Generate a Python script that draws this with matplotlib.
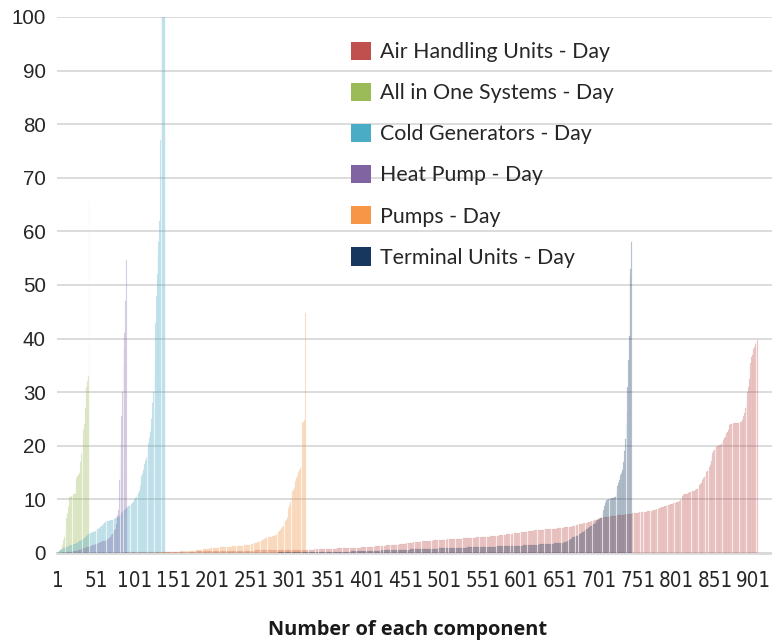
import numpy as np
import matplotlib
matplotlib.use("Agg")
import matplotlib.pyplot as plt
from matplotlib.patches import Patch

series_names = ["Air Handling Units - Day", "All in One Systems - Day", "Cold Generators - Day",
                "Heat Pump - Day", "Pumps - Day", "Terminal Units - Day"]
series_colors = ["#C0504D", "#9BBB59", "#4BACC6", "#8064A2", "#F79646", "#17375E"]
tick_labels = ["1", "51", "101", "151", "201", "251", "301", "351", "401", "451", "501",
               "551", "601", "651", "701", "751", "801", "851", "901"]

air_handling = [
    0.00,0.00,0.00,0.00,0.01,0.01,0.01,0.01,0.01,0.01,
    0.01,0.02,0.02,0.02,0.02,0.02,0.02,0.02,0.03,0.03,
    0.03,0.03,0.03,0.03,0.03,0.04,0.04,0.04,0.04,0.04,
    0.04,0.04,0.05,0.05,0.05,0.05,0.05,0.05,0.05,0.05,
    0.05,0.06,0.06,0.06,0.06,0.06,0.06,0.06,0.06,0.06,
    0.06,0.06,0.07,0.07,0.07,0.07,0.07,0.07,0.07,0.07,
    0.07,0.07,0.08,0.08,0.08,0.08,0.08,0.08,0.08,0.08,
    0.08,0.08,0.08,0.09,0.09,0.09,0.09,0.09,0.09,0.09,
    0.09,0.09,0.09,0.09,0.10,0.10,0.10,0.10,0.10,0.10,
    0.10,0.10,0.10,0.10,0.10,0.11,0.11,0.11,0.11,0.11,
    0.11,0.11,0.11,0.12,0.12,0.12,0.12,0.12,0.12,0.12,
    0.13,0.13,0.13,0.13,0.13,0.13,0.14,0.14,0.14,0.14,
    0.14,0.14,0.15,0.15,0.15,0.15,0.15,0.16,0.16,0.16,
    0.16,0.16,0.17,0.17,0.17,0.17,0.17,0.18,0.18,0.18,
    0.18,0.18,0.19,0.19,0.19,0.19,0.20,0.20,0.20,0.20,
    0.20,0.21,0.21,0.21,0.21,0.22,0.22,0.22,0.22,0.22,
    0.23,0.23,0.23,0.23,0.24,0.24,0.24,0.24,0.25,0.25,
    0.25,0.25,0.26,0.26,0.26,0.26,0.27,0.27,0.27,0.27,
    0.28,0.28,0.28,0.28,0.29,0.29,0.29,0.29,0.30,0.30,
    0.30,0.30,0.31,0.31,0.31,0.31,0.32,0.32,0.32,0.32,
    0.33,0.33,0.33,0.33,0.34,0.34,0.34,0.34,0.35,0.35,
    0.35,0.35,0.36,0.36,0.36,0.36,0.37,0.37,0.37,0.37,
    0.38,0.38,0.38,0.38,0.39,0.39,0.39,0.39,0.40,0.40,
    0.40,0.40,0.41,0.41,0.41,0.41,0.42,0.42,0.42,0.42,
    0.43,0.43,0.43,0.43,0.44,0.44,0.44,0.44,0.45,0.45,
    0.45,0.45,0.46,0.46,0.46,0.46,0.47,0.47,0.47,0.47,
    0.48,0.48,0.48,0.48,0.49,0.49,0.49,0.49,0.50,0.50,
    0.50,0.50,0.51,0.51,0.51,0.51,0.52,0.52,0.52,0.52,
    0.53,0.53,0.53,0.53,0.54,0.54,0.54,0.54,0.55,0.55,
    0.55,0.55,0.56,0.56,0.56,0.56,0.57,0.57,0.57,0.57,
    0.58,0.58,0.58,0.58,0.59,0.59,0.59,0.59,0.60,0.60,
    0.60,0.60,0.61,0.61,0.61,0.61,0.62,0.62,0.62,0.62,
    0.63,0.63,0.63,0.63,0.64,0.64,0.64,0.64,0.65,0.65,
    0.65,0.65,0.66,0.66,0.66,0.66,0.67,0.67,0.67,0.67,
    0.68,0.68,0.68,0.69,0.69,0.69,0.70,0.70,0.70,0.71,
    0.72,0.73,0.74,0.75,0.76,0.77,0.78,0.79,0.80,0.81,
    0.82,0.83,0.84,0.85,0.85,0.86,0.86,0.87,0.87,0.88,
    0.88,0.89,0.90,0.91,0.92,0.93,0.94,0.95,0.96,0.96,
    0.97,0.97,0.98,0.98,0.99,0.99,1.00,1.00,1.00,1.01,
    1.01,1.02,1.02,1.03,1.03,1.04,1.05,1.06,1.07,1.08,
    1.09,1.10,1.11,1.12,1.13,1.14,1.15,1.16,1.17,1.18,
    1.20,1.22,1.24,1.26,1.28,1.30,1.31,1.32,1.33,1.34,
    1.35,1.36,1.37,1.38,1.39,1.40,1.41,1.42,1.43,1.44,
    1.45,1.46,1.47,1.48,1.49,1.50,1.51,1.52,1.53,1.54,
    1.56,1.58,1.60,1.62,1.64,1.66,1.68,1.70,1.72,1.74,
    1.76,1.78,1.80,1.82,1.84,1.86,1.88,1.90,1.92,1.94,
    1.96,1.98,2.00,2.02,2.04,2.06,2.08,2.10,2.12,2.14,
    2.16,2.18,2.20,2.21,2.22,2.23,2.24,2.25,2.26,2.27,
    2.28,2.29,2.30,2.31,2.32,2.33,2.34,2.35,2.36,2.37,
    2.38,2.39,2.40,2.41,2.42,2.43,2.44,2.45,2.46,2.47,
    2.48,2.49,2.50,2.51,2.52,2.53,2.54,2.55,2.56,2.57,
    2.58,2.59,2.60,2.61,2.62,2.63,2.64,2.65,2.66,2.67,
    2.68,2.69,2.70,2.71,2.72,2.73,2.74,2.75,2.76,2.77,
    2.78,2.79,2.80,2.81,2.82,2.83,2.84,2.85,2.86,2.87,
    2.88,2.89,2.90,2.91,2.92,2.93,2.94,2.95,2.96,2.97,
    2.98,2.99,3.00,3.01,3.02,3.03,3.04,3.05,3.06,3.07,
    3.08,3.09,3.10,3.12,3.14,3.16,3.18,3.20,3.22,3.24,
    3.26,3.28,3.30,3.32,3.34,3.36,3.38,3.40,3.42,3.44,
    3.46,3.48,3.50,3.52,3.54,3.56,3.58,3.60,3.62,3.64,
    3.66,3.68,3.70,3.72,3.74,3.76,3.78,3.80,3.82,3.84,
    3.86,3.88,3.90,3.92,3.94,3.96,3.98,4.00,4.02,4.04,
    4.06,4.08,4.10,4.12,4.14,4.16,4.18,4.20,4.22,4.24,
    4.25,4.26,4.27,4.28,4.30,4.32,4.34,4.36,4.38,4.40,
    4.41,4.42,4.43,4.44,4.45,4.46,4.47,4.48,4.49,4.50,
    4.51,4.52,4.53,4.54,4.55,4.56,4.58,4.60,4.62,4.64,
    4.66,4.68,4.70,4.72,4.74,4.76,4.78,4.80,4.82,4.84,
    4.86,4.88,4.90,4.92,4.94,4.96,5.00,5.05,5.10,5.15,
    5.20,5.25,5.30,5.35,5.40,5.42,5.44,5.46,5.48,5.50,
    5.52,5.54,5.56,5.58,5.60,5.65,5.70,5.75,5.80,5.85,
    5.90,5.95,6.00,6.05,6.10,6.15,6.20,6.25,6.30,6.35,
    6.40,6.45,6.50,6.55,6.60,6.62,6.64,6.66,6.68,6.70,
    6.72,6.74,6.76,6.78,6.80,6.82,6.84,6.86,6.88,6.90,
    6.92,6.94,6.96,6.98,7.00,7.02,7.04,7.06,7.08,7.10,
    7.12,7.14,7.16,7.18,7.20,7.22,7.24,7.26,7.28,7.30,
    7.32,7.34,7.36,7.38,7.40,7.42,7.44,7.46,7.48,7.50,
    7.52,7.54,7.56,7.58,7.60,7.62,7.64,7.66,7.68,7.70,
    7.72,7.74,7.76,7.78,7.80,7.82,7.84,7.86,7.88,7.90,
    7.95,8.00,8.05,8.10,8.15,8.20,8.25,8.30,8.35,8.40,
    8.45,8.50,8.55,8.60,8.65,8.70,8.75,8.80,8.85,8.90,
    8.95,9.00,9.05,9.10,9.15,9.20,9.25,9.30,9.35,9.40,
    9.45,9.50,9.55,9.60,9.70,9.80,10.0,10.3,10.6,10.9,
    11.0,11.0,11.0,11.1,11.1,11.2,11.2,11.3,11.3,11.4,
    11.4,11.5,11.5,11.6,11.7,11.8,11.9,12.0,12.2,12.4,
    12.6,12.8,13.0,13.3,13.6,13.9,14.2,14.5,14.8,15.1,
    15.3,15.5,15.7,16.0,16.5,17.2,18.0,18.6,19.0,19.3,
    19.5,19.7,19.8,19.9,20.0,20.0,20.1,20.2,20.3,20.5,
    20.8,21.1,21.4,21.7,22.0,22.3,22.6,23.0,23.4,23.8,
    24.0,24.1,24.1,24.1,24.2,24.2,24.2,24.2,24.3,24.3,
    24.3,24.3,24.4,24.4,24.5,24.8,25.2,25.6,26.2,27.0,
    28.0,29.0,30.0,31.0,32.5,34.0,35.5,36.5,37.0,37.5,
    38.0,38.5,39.0,39.3,39.5,39.7,
]

all_in_one = [
    0.1,0.2,0.3,0.4,0.5,0.7,1.0,1.5,2.5,3.0,
    4.0,5.0,6.5,7.5,8.5,10.2,10.5,10.5,10.6,10.7,
    10.8,11.0,11.0,11.1,13.7,14.0,14.3,14.5,14.6,15.0,
    17.0,18.5,20.0,21.5,23.0,24.0,27.0,30.0,31.0,32.0,
    33.0,65.5,
]

cold_generators = [
    0.1,0.2,0.3,0.4,0.5,0.6,0.7,0.8,0.9,1.0,
    1.05,1.1,1.15,1.2,1.25,1.3,1.35,1.4,1.45,1.5,
    1.55,1.6,1.65,1.7,1.75,1.8,1.9,2.0,2.1,2.2,
    2.3,2.4,2.5,2.6,2.7,2.8,2.9,3.0,3.2,3.4,
    3.6,3.7,3.7,3.8,3.8,3.9,3.9,4.0,4.0,4.1,
    4.2,4.3,4.4,4.5,4.7,4.8,4.9,5.0,5.1,5.2,
    5.4,5.6,5.8,5.9,5.9,6.0,6.0,6.0,6.1,6.1,
    6.1,6.1,6.2,6.3,6.4,6.5,6.6,6.7,6.8,6.8,
    6.9,7.0,7.2,7.4,7.6,7.8,8.0,8.1,8.3,8.4,
    8.5,8.6,8.7,8.8,8.9,9.0,9.2,9.4,9.6,9.8,
    10.0,10.3,10.5,10.8,11.0,11.2,11.5,12.5,13.7,14.3,
    14.8,15.4,16.0,16.6,17.2,17.8,18.5,19.5,20.5,21.5,
    22.5,23.7,25.0,28.0,30.0,32.0,36.0,43.0,48.0,52.0,
    55.6,58.0,62.0,77.0,100,100,100,100,100,100,
]

heat_pump = [
    0.02,0.03,0.04,0.05,0.06,0.07,0.08,0.09,0.10,0.11,
    0.12,0.13,0.14,0.15,0.16,0.18,0.20,0.22,0.24,0.26,
    0.28,0.30,0.32,0.35,0.38,0.40,0.45,0.50,0.55,0.60,
    0.65,0.70,0.75,0.80,0.85,0.90,0.95,1.00,1.05,1.10,
    1.15,1.20,1.25,1.30,1.35,1.40,1.45,1.50,1.55,1.60,
    1.65,1.70,1.75,1.80,1.85,1.90,2.00,2.10,2.20,2.20,
    2.20,2.30,2.30,2.40,2.50,2.60,2.70,2.80,2.90,3.00,
    3.30,3.60,3.90,4.00,4.20,4.50,5.50,6.50,7.00,8.00,
    13.7,17.5,20.6,25.6,30.0,35.0,38.0,41.0,47.0,54.7,
]

pumps = [
    0.00,0.00,0.00,0.00,0.00,0.00,0.00,0.00,0.00,0.00,
    0.00,0.00,0.00,0.00,0.00,0.00,0.00,0.00,0.00,0.00,
    0.01,0.01,0.01,0.01,0.01,0.01,0.01,0.01,0.01,0.01,
    0.01,0.01,0.01,0.01,0.01,0.01,0.01,0.01,0.01,0.01,
    0.02,0.02,0.02,0.02,0.02,0.02,0.02,0.02,0.02,0.02,
    0.02,0.02,0.02,0.02,0.02,0.02,0.02,0.02,0.02,0.02,
    0.03,0.03,0.03,0.03,0.03,0.03,0.03,0.03,0.03,0.03,
    0.03,0.03,0.03,0.03,0.03,0.03,0.03,0.03,0.03,0.03,
    0.04,0.04,0.04,0.04,0.04,0.04,0.04,0.04,0.04,0.04,
    0.05,0.05,0.05,0.05,0.05,0.05,0.05,0.05,0.05,0.05,
    0.06,0.06,0.06,0.06,0.06,0.06,0.06,0.06,0.06,0.06,
    0.07,0.07,0.07,0.07,0.07,0.07,0.07,0.07,0.07,0.07,
    0.08,0.08,0.08,0.08,0.08,0.08,0.08,0.08,0.08,0.08,
    0.10,0.10,0.10,0.10,0.10,0.10,0.10,0.10,0.10,0.10,
    0.12,0.13,0.14,0.15,0.16,0.17,0.18,0.19,0.20,0.21,
    0.22,0.22,0.23,0.23,0.24,0.24,0.25,0.26,0.27,0.28,
    0.29,0.30,0.31,0.32,0.33,0.34,0.35,0.36,0.37,0.38,
    0.39,0.40,0.41,0.42,0.43,0.44,0.45,0.46,0.47,0.48,
    0.49,0.50,0.52,0.54,0.56,0.58,0.60,0.62,0.64,0.66,
    0.68,0.70,0.72,0.74,0.76,0.78,0.80,0.82,0.84,0.86,
    0.88,0.90,0.92,0.94,0.96,0.98,1.00,1.01,1.02,1.03,
    1.04,1.05,1.06,1.07,1.08,1.09,1.10,1.11,1.12,1.13,
    1.14,1.15,1.16,1.17,1.18,1.20,1.22,1.24,1.26,1.28,
    1.30,1.31,1.32,1.33,1.34,1.35,1.36,1.37,1.38,1.39,
    1.40,1.42,1.44,1.46,1.48,1.50,1.52,1.55,1.58,1.61,
    1.64,1.67,1.70,1.73,1.76,1.80,1.85,1.90,1.95,2.00,
    2.05,2.10,2.15,2.20,2.30,2.40,2.50,2.60,2.70,2.80,
    2.85,2.90,2.95,3.00,3.00,3.00,3.05,3.05,3.10,3.10,
    3.10,3.20,3.30,3.40,3.50,3.70,3.90,4.10,4.30,4.50,
    4.60,4.80,5.00,5.30,5.60,5.90,6.20,6.60,7.00,8.40,
    9.0,9.6,10.4,11.0,11.6,11.8,12.2,12.8,13.4,14.0,
    14.3,14.8,15.2,15.5,15.8,16.1,16.3,24.2,24.5,24.8,
    25.0,44.7,
]

terminal_units = [
    0.00,0.00,0.00,0.00,0.00,0.00,0.00,0.00,0.00,0.00,
    0.00,0.00,0.00,0.00,0.00,0.01,0.01,0.01,0.01,0.01,
    0.01,0.01,0.01,0.01,0.01,0.01,0.01,0.01,0.01,0.01,
    0.01,0.01,0.01,0.01,0.01,0.01,0.01,0.01,0.01,0.01,
    0.01,0.01,0.01,0.01,0.01,0.02,0.02,0.02,0.02,0.02,
    0.02,0.02,0.02,0.02,0.02,0.02,0.02,0.02,0.02,0.02,
    0.02,0.02,0.02,0.02,0.02,0.02,0.02,0.02,0.02,0.02,
    0.02,0.02,0.02,0.02,0.02,0.03,0.03,0.03,0.03,0.03,
    0.03,0.03,0.03,0.03,0.03,0.03,0.03,0.03,0.03,0.03,
    0.03,0.03,0.03,0.03,0.03,0.03,0.03,0.03,0.03,0.03,
    0.03,0.03,0.03,0.03,0.03,0.04,0.04,0.04,0.04,0.04,
    0.04,0.04,0.04,0.04,0.04,0.04,0.04,0.04,0.04,0.04,
    0.04,0.04,0.04,0.04,0.04,0.04,0.04,0.04,0.04,0.04,
    0.04,0.04,0.04,0.04,0.04,0.05,0.05,0.05,0.05,0.05,
    0.05,0.05,0.05,0.05,0.05,0.05,0.05,0.05,0.05,0.05,
    0.05,0.05,0.05,0.05,0.05,0.05,0.05,0.05,0.05,0.05,
    0.05,0.05,0.05,0.05,0.05,0.06,0.06,0.06,0.06,0.06,
    0.06,0.06,0.06,0.06,0.06,0.06,0.06,0.06,0.06,0.06,
    0.06,0.06,0.06,0.06,0.06,0.06,0.06,0.06,0.06,0.06,
    0.06,0.06,0.06,0.06,0.06,0.07,0.07,0.07,0.07,0.07,
    0.07,0.07,0.07,0.07,0.07,0.07,0.07,0.07,0.07,0.07,
    0.07,0.07,0.07,0.07,0.07,0.07,0.07,0.07,0.07,0.07,
    0.07,0.07,0.07,0.07,0.07,0.08,0.08,0.08,0.08,0.08,
    0.08,0.08,0.08,0.08,0.08,0.08,0.08,0.08,0.08,0.08,
    0.08,0.08,0.08,0.08,0.08,0.08,0.08,0.08,0.08,0.08,
    0.08,0.08,0.08,0.08,0.08,0.09,0.09,0.09,0.09,0.09,
    0.09,0.09,0.09,0.09,0.09,0.09,0.09,0.09,0.09,0.09,
    0.09,0.09,0.09,0.09,0.09,0.09,0.09,0.09,0.09,0.09,
    0.09,0.09,0.09,0.09,0.09,0.10,0.10,0.10,0.10,0.10,
    0.10,0.10,0.10,0.10,0.10,0.10,0.10,0.10,0.10,0.10,
    0.10,0.10,0.10,0.10,0.10,0.10,0.10,0.10,0.10,0.10,
    0.10,0.10,0.10,0.10,0.10,0.11,0.11,0.11,0.11,0.11,
    0.11,0.11,0.11,0.11,0.11,0.11,0.11,0.11,0.11,0.11,
    0.11,0.11,0.11,0.11,0.11,0.12,0.12,0.12,0.12,0.12,
    0.12,0.12,0.12,0.12,0.12,0.13,0.13,0.13,0.13,0.13,
    0.13,0.13,0.14,0.14,0.15,0.15,0.16,0.16,0.17,0.17,
    0.18,0.18,0.19,0.19,0.20,0.20,0.21,0.21,0.22,0.22,
    0.23,0.23,0.24,0.24,0.25,0.25,0.26,0.26,0.27,0.27,
    0.28,0.28,0.29,0.29,0.30,0.30,0.31,0.31,0.32,0.32,
    0.33,0.33,0.34,0.34,0.35,0.35,0.36,0.36,0.37,0.37,
    0.38,0.38,0.39,0.39,0.40,0.40,0.41,0.41,0.42,0.42,
    0.43,0.43,0.44,0.44,0.45,0.45,0.46,0.46,0.47,0.47,
    0.48,0.48,0.49,0.49,0.50,0.50,0.51,0.51,0.52,0.52,
    0.53,0.53,0.54,0.54,0.55,0.55,0.56,0.56,0.57,0.57,
    0.58,0.58,0.59,0.59,0.60,0.60,0.61,0.61,0.62,0.62,
    0.63,0.63,0.64,0.64,0.65,0.65,0.66,0.66,0.67,0.67,
    0.68,0.68,0.69,0.69,0.70,0.70,0.71,0.71,0.72,0.72,
    0.73,0.73,0.74,0.74,0.75,0.75,0.76,0.76,0.77,0.77,
    0.78,0.78,0.79,0.79,0.80,0.80,0.81,0.81,0.82,0.82,
    0.83,0.83,0.84,0.84,0.85,0.85,0.86,0.86,0.87,0.87,
    0.88,0.88,0.89,0.89,0.90,0.90,0.91,0.91,0.92,0.92,
    0.93,0.93,0.94,0.94,0.95,0.95,0.96,0.96,0.97,0.97,
    0.98,0.98,0.99,0.99,1.00,1.00,1.01,1.01,1.02,1.02,
    1.03,1.03,1.04,1.04,1.05,1.05,1.06,1.06,1.07,1.07,
    1.08,1.08,1.09,1.09,1.10,1.10,1.11,1.11,1.12,1.12,
    1.13,1.13,1.14,1.14,1.15,1.15,1.16,1.16,1.17,1.17,
    1.18,1.18,1.19,1.19,1.20,1.20,1.21,1.21,1.22,1.22,
    1.23,1.23,1.24,1.24,1.25,1.25,1.26,1.26,1.27,1.27,
    1.28,1.28,1.29,1.29,1.30,1.30,1.31,1.31,1.32,1.32,
    1.33,1.33,1.34,1.34,1.35,1.35,1.36,1.36,1.37,1.37,
    1.38,1.39,1.40,1.40,1.41,1.42,1.43,1.43,1.44,1.45,
    1.46,1.47,1.48,1.49,1.50,1.51,1.52,1.53,1.54,1.55,
    1.56,1.57,1.58,1.59,1.60,1.61,1.62,1.63,1.64,1.65,
    1.66,1.67,1.68,1.69,1.70,1.71,1.72,1.73,1.74,1.75,
    1.76,1.77,1.78,1.79,1.80,1.81,1.82,1.83,1.84,1.85,
    1.86,1.88,1.90,1.92,1.94,1.96,1.98,2.00,2.10,2.20,
    2.30,2.40,2.50,2.60,2.70,2.80,2.90,3.00,3.05,3.10,
    3.15,3.20,3.25,3.30,3.40,3.50,3.60,3.70,3.80,3.90,
    4.00,4.10,4.20,4.30,4.40,4.50,4.70,4.80,4.90,5.00,
    5.10,5.20,5.30,5.40,5.50,5.60,5.80,6.00,6.10,6.20,
    6.30,6.40,6.50,6.60,6.80,7.20,8.00,8.80,9.40,9.70,
    9.80,9.90,10.0,10.0,10.1,10.1,10.2,10.2,10.3,10.3,
    10.4,10.5,11.0,11.8,12.5,13.0,13.6,14.2,14.6,15.0,
    15.5,16.2,16.9,19.0,21.2,24.0,26.2,31.0,36.0,40.5,
    51.7,52.9,58.0,
]

all_series = [air_handling, all_in_one, cold_generators, heat_pump, pumps, terminal_units]

W, H = 772, 641
fig = plt.figure(figsize=(W / 100, H / 100), dpi=100)
fig.patch.set_facecolor("white")
ax = fig.add_axes([57 / W, 1 - 553 / H, (772 - 57) / W, (553 - 17) / H])

for vals, col in zip(all_series, series_colors):
    xs = np.arange(1, len(vals) + 1)
    ax.bar(xs, vals, width=0.85, color=col, alpha=0.26, edgecolor=col,
           linewidth=0.15, zorder=2)

ax.set_xlim(0.5, 924.5)
ax.set_ylim(0, 100)
ax.set_yticks(np.arange(0, 101, 10))
ax.set_xticks(np.arange(1, 902, 50))
ax.set_xticklabels(tick_labels)

ax.grid(axis="y", color="#D9D9D9", linewidth=1.3, zorder=0)
ax.set_axisbelow(True)
for s in ["left", "right", "top"]:
    ax.spines[s].set_visible(False)
ax.spines["bottom"].set_color("#D9D9D9")
ax.spines["bottom"].set_linewidth(2.0)
ax.spines["bottom"].set_zorder(1)
ax.tick_params(axis="both", length=0)
ax.tick_params(axis="y", pad=8, labelsize=14.8, labelcolor="#262626")
ax.tick_params(axis="x", pad=13, labelsize=14.8, labelcolor="#262626")
for lab in ax.get_yticklabels():
    lab.set_fontfamily(["Liberation Sans", "DejaVu Sans"])
for lab in ax.get_xticklabels():
    lab.set_fontfamily(["DejaVu Sans"])
    lab.set_fontstretch("condensed")

fig.text(0.528, 1 - 630 / H, "Number of each component", ha="center", va="center",
         fontsize=14.4, fontweight="bold", color="#1A1A1A",
         family=["Open Sans", "DejaVu Sans"])

handles = [Patch(facecolor=c, edgecolor="none") for c in series_colors]
leg = ax.legend(handles, series_names, loc="upper left",
                bbox_to_anchor=(342 / W, 1 - 33 / H), bbox_transform=fig.transFigure,
                frameon=False, handlelength=0.95, handleheight=0.95,
                handletextpad=0.45, labelspacing=0.96, borderaxespad=0,
                prop={"family": ["Lato", "DejaVu Sans"], "size": 15.4})
for t in leg.get_texts():
    t.set_color("#262626")

fig.savefig("out.png", dpi=100, facecolor="white")
